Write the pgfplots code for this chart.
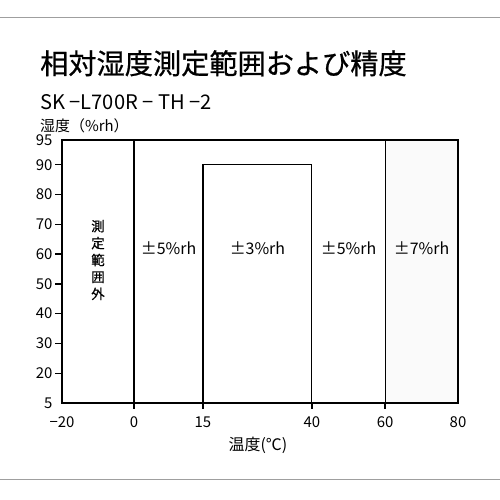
\documentclass[border=0pt]{standalone}
\usepackage{pgfplots}
\pgfplotsset{compat=1.18}
\usepackage{fontspec}
\setmainfont{Noto Sans CJK JP}
\newfontfamily\titlefont{Noto Sans CJK JP}[FakeBold=0.6]

\begin{document}
\begin{tikzpicture}
\useasboundingbox (0bp,0bp) rectangle (500bp,500bp);
\draw[gray!75, line width=1bp] (0bp,482bp) -- (500bp,482bp);
\draw[gray!75, line width=1bp] (0bp,20bp) -- (500bp,20bp);
\node[anchor=base west, inner sep=0pt, font=\titlefont\fontsize{28.3}{30}\selectfont] at (40bp,426bp) {相対湿度測定範囲および精度};
\node[anchor=base west, inner sep=0pt, font=\fontsize{20.2}{24}\selectfont] at (40bp,390bp) {SK −L700R − TH −2};
\node[anchor=base west, inner sep=0pt, font=\fontsize{15}{16}\selectfont] at (40bp,368bp) {湿度（\%rh）};
\node[anchor=base, inner sep=0pt, font=\fontsize{16}{18}\selectfont] at (258bp,49bp) {温度(℃)};

\begin{axis}[
    at={(62bp,97bp)}, anchor=south west,
    scale only axis, width=396bp, height=263bp,
    axis on top, clip=false,
    % the chart's scales are stretched piecewise
    x coord trafo/.code={\pgfmathparse{ifthenelse(#1<0, -20+(#1+20)*0.909, ifthenelse(#1<15, -1.8+#1*1.16, ifthenelse(#1<40, 15.6+(#1-15)*1.1, ifthenelse(#1<60, 43.1+(#1-40)*0.925, 61.6+(#1-60)*0.92))))}},
    y coord trafo/.code={\pgfmathparse{ifthenelse(#1<20, 10+(#1-5)*0.6667, ifthenelse(#1>90, 90+(#1-90)*1.66, #1))}},
    xmin=-20, xmax=80, ymin=5, ymax=95,
    axis line style={line width=1.2bp},
    xtick={-20,0,15,40,60,80},
    xticklabels={−20,0,15,40,60,80},
    ytick={5,20,30,40,50,60,70,80,90,95},
    yticklabels={5,20,30,40,50,60,70,80,90,95},
    major tick length=6bp,
    major tick style={draw=none},
    tick align=outside,
    tick pos=left,
    ticklabel style={font=\fontsize{15}{17}\selectfont},
    xticklabel style={yshift=-4bp},
    yticklabel style={xshift=0bp},
]
\addplot[fill=gray!4, draw=none] coordinates {(60,5) (60,95) (80,95) (80,5)} -- cycle;
\addplot[black, line width=1.2bp] coordinates {(15,5) (15,90) (40,90) (40,5)};
\addplot[black, line width=1.2bp] coordinates {(0,5) (0,95)};
\addplot[black, line width=1.2bp] coordinates {(60,5) (60,95)};
% tick marks, only at the inner positions
\pgfplotsinvokeforeach{0,15,40,60}{\draw[black, line width=1.3bp] (axis cs:#1,5) -- ++(0bp,-6.5bp);}
\pgfplotsinvokeforeach{20,30,40,50,60,70,80,90}{\draw[black, line width=1.3bp] (axis cs:-20,#1) -- ++(-6.5bp,0bp);}
\node[font=\fontsize{16}{18}\selectfont] at (axis cs:7.5,62) {±5\%rh};
\node[font=\fontsize{16}{18}\selectfont] at (axis cs:27.5,62) {±3\%rh};
\node[font=\fontsize{16}{18}\selectfont] at (axis cs:50,62) {±5\%rh};
\node[font=\fontsize{16}{18}\selectfont] at (axis cs:70,62) {±7\%rh};
\node[font=\titlefont\fontsize{13.5}{17}\selectfont, align=center] at (axis cs:-10,58) {測\\定\\範\\囲\\外};
\end{axis}
\end{tikzpicture}
\end{document}
